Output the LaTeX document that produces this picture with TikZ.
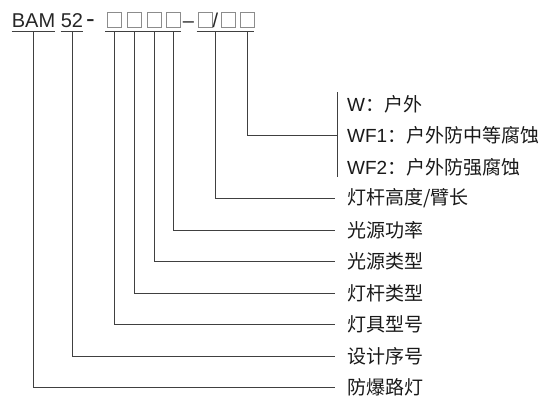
\documentclass[tikz,border=0pt]{standalone}
\usepackage{fontspec}
\setmainfont{Liberation Sans}
\newfontfamily\cjk{Noto Sans CJK SC}

\begin{document}
\begin{tikzpicture}[x=1pt,y=-1pt,
    top/.style={anchor=base,inner sep=0pt,text=black!85,font=\fontsize{20}{20}\selectfont},
    box/.style={draw=black!45,line width=0.9pt,minimum width=14pt,minimum height=15pt,inner sep=0pt},
    lab/.style={anchor=west,inner sep=0pt,text=black!90,font=\fontsize{19}{19}\selectfont},
    link/.style={draw=black!75,line width=0.9pt}]

    \useasboundingbox (0,0) rectangle (557,413);

    \node[top] (B) at (33.5,27) {BAM};
    \node[top] (N) at (72,27) {52};
    \node[top,font=\fontsize{26}{26}\selectfont] (D1) at (90.5,27) {-};
    \node[box] (P1) at (114,19.5) {};
    \node[box] (P2) at (134,19.5) {};
    \node[box] (P3) at (154,19.5) {};
    \node[box] (P4) at (173.5,19.5) {};
    \node[top] (D2) at (188.5,27) {–};
    \node[box] (P5) at (205,19.5) {};
    \node[top] (S) at (215.5,27) {/};
    \node[box] (P6) at (228.5,19.5) {};
    \node[box] (P7) at (247,19.5) {};

    \node[lab] (L1) at (347,104) {W\cjk{：户外}};
    \node[lab] (L2) at (347,135.5) {WF1\cjk{：户外防中等腐蚀}};
    \node[lab] (L3) at (347,167) {WF2\cjk{：户外防强腐蚀}};
    \node[lab] (L4) at (347,198.5) {\cjk{灯杆高度}/\cjk{臂长}};
    \node[lab] (L5) at (347,230) {\cjk{光源功率}};
    \node[lab] (L6) at (347,261.5) {\cjk{光源类型}};
    \node[lab] (L7) at (347,293) {\cjk{灯杆类型}};
    \node[lab] (L8) at (347,324.5) {\cjk{灯具型号}};
    \node[lab] (L9) at (347,356) {\cjk{设计序号}};
    \node[lab] (L10) at (347,387.5) {\cjk{防爆路灯}};

    \coordinate (K1) at (337,92);
    \coordinate (K2) at (337,177);

    % underlines
    \draw[link] ([yshift=-4pt]B.south west) -- ([yshift=-4pt]B.south east);
    \draw[link] ([yshift=-4pt]N.south west) -- ([yshift=-4pt]N.south east);
    \draw[link] ([xshift=-1.5pt,yshift=-4pt]P1.south west) -- ([yshift=-4pt]P4.south east);
    \draw[link] ([xshift=-1pt,yshift=-4pt]P5.south west) -- ([yshift=-4pt]P7.south east);

    % leaders
    \draw[link] (K1) -- (K2);
    \draw[link] ([yshift=-4pt]P7.south) |- (K1 |- L2);
    \draw[link] ([yshift=-4pt]S.base) |- ([xshift=-12pt]L4.west);
    \draw[link] ([yshift=-4pt]P4.south) |- ([xshift=-12pt]L5.west);
    \draw[link] ([yshift=-4pt]P3.south) |- ([xshift=-12pt]L6.west);
    \draw[link] ([yshift=-4pt]P2.south) |- ([xshift=-12pt]L7.west);
    \draw[link] ([yshift=-4pt]P1.south) |- ([xshift=-12pt]L8.west);
    \draw[link] ([yshift=-4pt]N.base) |- ([xshift=-12pt]L9.west);
    \draw[link] ([yshift=-4pt]B.base) |- ([xshift=-12pt]L10.west);
\end{tikzpicture}
\end{document}
